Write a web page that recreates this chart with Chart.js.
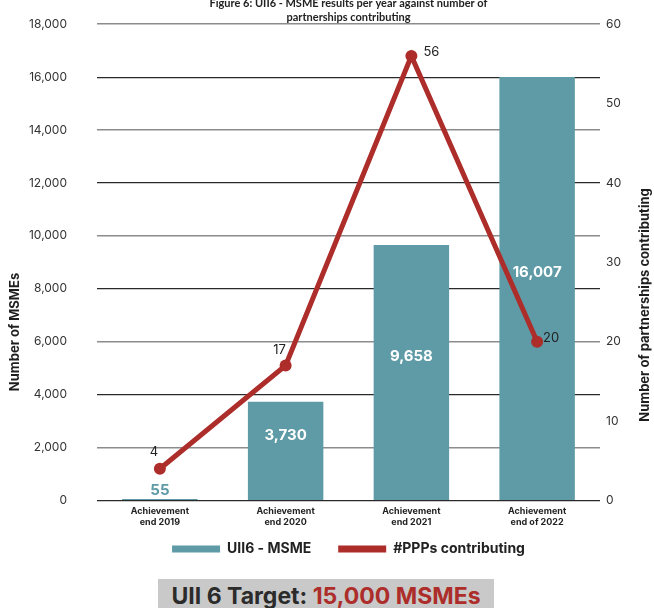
<!DOCTYPE html>
<html>
<head>
<meta charset="utf-8">
<script src="https://cdn.jsdelivr.net/npm/chart.js@4/dist/chart.umd.min.js"></script>
<style>
  html, body { margin: 0; padding: 0; background: #fff; overflow: hidden; }
  #wrap { position: relative; width: 654px; height: 608px; overflow: hidden; }
  #chartBox { position: absolute; left: 0; top: -13px; width: 654px; height: 597px; }
  #target {
    position: absolute; left: 158px; top: 579px; width: 336px; height: 40px;
    background: #c8c9c8; font-family: Inter, sans-serif; font-weight: 700;
    font-size: 23px; color: #2b2b2b; text-align: center; line-height: 34px;
  }
  #target span { color: #ad2d2a; }
</style>
</head>
<body>
<div id="wrap">
  <div id="chartBox"><canvas id="msmeChart"></canvas></div>
  <div id="target">UII 6 Target: <span>15,000 MSMEs</span></div>
</div>
<script>
const categories  = [['Achievement', 'end 2019'], ['Achievement', 'end 2020'], ['Achievement', 'end 2021'], ['Achievement', 'end of 2022']];
const msmeCounts  = [55, 3730, 9658, 16007];
const pppCounts   = [4, 17, 56, 20];
const leftTicks   = [0, 2000, 4000, 6000, 8000, 10000, 12000, 14000, 16000, 18000];
const rightTicks  = [0, 10, 20, 30, 40, 50, 60];

const TEAL = '#5e9ba6';
const RED  = '#ad2d2a';
const FONT = 'Inter, sans-serif';

// value labels on bars and line points, plus both vertical axis titles
const labelsPlugin = {
  id: 'valueLabels',
  afterLayout(chart) {
    // legend padding also sets the gap between items; pull the row up closer to the axis labels
    chart.legend.top -= 18;
    chart.legend.adjustHitBoxes();
  },
  afterDatasetsDraw(chart) {
    const ctx = chart.ctx;
    const base = chart.scales.y.getPixelForValue(0);
    ctx.save();
    ctx.textAlign = 'center';
    ctx.textBaseline = 'middle';

    // bar values
    ctx.font = `700 15px ${FONT}`;
    chart.getDatasetMeta(0).data.forEach((bar, i) => {
      const h = base - bar.y;
      const text = msmeCounts[i].toLocaleString('en-US');
      if (h > 24) {
        ctx.fillStyle = '#fff';
        ctx.fillText(text, bar.x, (bar.y + base) / 2 - 16);
      } else {
        ctx.fillStyle = TEAL;
        ctx.fillText(text, bar.x, bar.y - 9);
      }
    });

    // line values
    const offs = [[-6, -17], [-6, -15], [20, -4], [14, -4]];
    ctx.font = `400 13px ${FONT}`;
    ctx.fillStyle = '#222';
    chart.getDatasetMeta(1).data.forEach((pt, i) => {
      ctx.fillText(String(pppCounts[i]), pt.x + offs[i][0], pt.y + offs[i][1]);
    });

    // axis titles, both reading bottom to top
    const top = chart.canvas.getBoundingClientRect().top;
    ctx.font = `700 13px ${FONT}`;
    ctx.fillStyle = '#1e1e1e';
    ctx.save();
    ctx.translate(15, 332 - top);
    ctx.rotate(-Math.PI / 2);
    ctx.fillText('Number of MSMEs', 0, 0);
    ctx.restore();
    ctx.translate(645, 305 - top);
    ctx.rotate(-Math.PI / 2);
    ctx.fillText('Number of partnerships contributing', 0, 0);
    ctx.restore();
  }
};

new Chart(document.getElementById('msmeChart'), {
  type: 'bar',
  data: {
    labels: categories,
    datasets: [
      {
        label: 'UII6 - MSME',
        data: msmeCounts,
        backgroundColor: TEAL,
        yAxisID: 'y',
        barPercentage: 0.6,
        categoryPercentage: 1,
        order: 2,
      },
      {
        type: 'line',
        label: '#PPPs contributing',
        data: pppCounts,
        borderColor: RED,
        backgroundColor: RED,
        borderWidth: 5,
        pointRadius: 6,
        pointBackgroundColor: RED,
        pointBorderWidth: 0,
        tension: 0,
        yAxisID: 'y1',
        order: 1,
      },
    ],
  },
  options: {
    responsive: true,
    maintainAspectRatio: false,
    animation: false,
    layout: { padding: 0 },
    plugins: {
      tooltip: { enabled: false },
      title: {
        display: true,
        fullSize: false,
        text: ['Figure 6: UII6 - MSME results per year against number of', 'partnerships contributing'],
        color: '#222',
        font: { family: 'Lato, sans-serif', size: 11, weight: '700', lineHeight: 1.25 },
        padding: 0,
      },
      legend: {
        position: 'bottom',
        fullSize: false,
        labels: {
          color: '#222',
          font: { family: FONT, size: 14, weight: '700' },
          boxWidth: 48,
          boxHeight: 7,
          padding: 27,
          generateLabels(chart) {
            return chart.data.datasets.map((ds, i) => ({
              text: ds.label,
              fillStyle: ds.backgroundColor,
              strokeStyle: ds.backgroundColor,
              lineWidth: 0,
              fontColor: '#222',
              datasetIndex: i,
            }));
          },
        },
      },
    },
    scales: {
      x: {
        grid: { display: false, drawTicks: false },
        border: { display: false },
        ticks: {
          color: '#222',
          font: { family: FONT, size: 9, weight: '700', lineHeight: 1.25 },
          padding: 5,
          maxRotation: 0,
        },
      },
      y: {
        position: 'left',
        min: 0,
        max: 18000,
        afterBuildTicks(scale) { scale.ticks = leftTicks.map(v => ({ value: v })); },
        afterFit(scale) { scale.width = 97; },
        grid: {
          drawTicks: false,
          color: ctx => (ctx.index % 2 ? '#8c8c8c' : '#2a2a2a'),
          lineWidth: ctx => (ctx.index % 2 ? 1.6 : 1.2),
        },
        border: { display: false },
        ticks: {
          color: '#333',
          font: { family: FONT, size: 12 },
          padding: 30,
          callback: v => v.toLocaleString('en-US'),
        },
      },
      y1: {
        position: 'right',
        min: 0,
        max: 60,
        afterBuildTicks(scale) { scale.ticks = rightTicks.map(v => ({ value: v })); },
        afterFit(scale) { scale.width = 54; },
        grid: { display: false, drawTicks: false },
        border: { display: false },
        ticks: {
          color: '#333',
          font: { family: FONT, size: 12 },
          padding: 6,
        },
      },
    },
  },
  plugins: [labelsPlugin],
});
</script>
</body>
</html>
